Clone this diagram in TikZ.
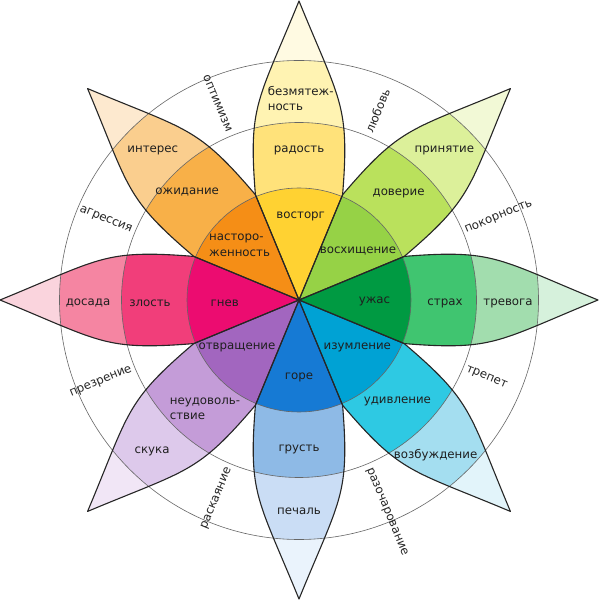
\documentclass[tikz,border=0pt]{standalone}
\usepackage{fontspec}
\setmainfont{DejaVu Sans}
% joy (top)
\definecolor{ja}{HTML}{FFD232}\definecolor{jb}{HTML}{FFE27A}\definecolor{jc}{HTML}{FFF3B2}\definecolor{jd}{HTML}{FFFAE2}
% trust (top right)
\definecolor{ta}{HTML}{96D246}\definecolor{tb}{HTML}{BAE15C}\definecolor{tc}{HTML}{DCF09A}\definecolor{td}{HTML}{F2F9D6}
% fear (right)
\definecolor{fa}{HTML}{009A42}\definecolor{fb}{HTML}{40C570}\definecolor{fc}{HTML}{A2DDAE}\definecolor{fd}{HTML}{D6F1DC}
% surprise (bottom right)
\definecolor{sa}{HTML}{00A2D4}\definecolor{sb}{HTML}{2EC9E3}\definecolor{sc}{HTML}{A4DEF0}\definecolor{sd}{HTML}{E2F4FA}
% sadness (bottom)
\definecolor{da}{HTML}{167AD4}\definecolor{db}{HTML}{8EBAE6}\definecolor{dc}{HTML}{CADDF5}\definecolor{dd}{HTML}{EAF3FC}
% disgust (bottom left)
\definecolor{ga}{HTML}{A266BF}\definecolor{gb}{HTML}{C49CD8}\definecolor{gc}{HTML}{DDC9EB}\definecolor{gd}{HTML}{F1E6F6}
% anger (left)
\definecolor{aa}{HTML}{EC0C70}\definecolor{ab}{HTML}{F13E7A}\definecolor{ac}{HTML}{F585A2}\definecolor{ad}{HTML}{FAD4DD}
% anticipation (top left)
\definecolor{na}{HTML}{F58E16}\definecolor{nb}{HTML}{F8B048}\definecolor{nc}{HTML}{FACE8E}\definecolor{nd}{HTML}{FDE9CF}
\newcommand\plpetal{(0,0) -- (105.3,43.6) .. controls (195.3,50.8) and (198,41.3) .. (299,0) .. controls (198,-41.3) and (195.3,-50.8) .. (105.3,-43.6) -- cycle}
\newcommand\plfill[5]{%
  \begin{scope}[rotate=#1]
    \clip \plpetal;
    \fill[#5] (0,0) circle (300);
    \fill[#4] (0,0) circle (239.5);
    \fill[#3] (0,0) circle (177.5);
    \fill[#2] (0,0) circle (112);
  \end{scope}}
\newcommand\plline[1]{\draw[petalline, rotate=#1] \plpetal;}
\begin{document}
\begin{tikzpicture}[x=1pt,y=1pt,
  emo/.style={font=\fontsize{11.8}{15.5}\selectfont, text=black!88, inner sep=0pt, align=left},
  dyad/.style={font=\fontsize{11.8}{14}\selectfont, text=black!85, inner sep=0pt},
  ring/.style={draw=black!60, line width=0.6pt},
  petalline/.style={draw=black!85, line width=1.1pt, line join=round}]
\useasboundingbox (-299,-304) rectangle (299,300);
\fill[white] (-299,-304) rectangle (299,300);
% petal fills
\plfill{90}{ja}{jb}{jc}{jd}
\plfill{45}{ta}{tb}{tc}{td}
\plfill{0}{fa}{fb}{fc}{fd}
\plfill{-45}{sa}{sb}{sc}{sd}
\plfill{-90}{da}{db}{dc}{dd}
\plfill{-135}{ga}{gb}{gc}{gd}
\plfill{180}{aa}{ab}{ac}{ad}
\plfill{135}{na}{nb}{nc}{nd}
% rings
\draw[ring] (0,0) circle (112);
\draw[ring] (0,0) circle (177.5);
\draw[ring] (0,0) circle (239.5);
% petal outlines
\plline{90}\plline{45}\plline{0}\plline{-45}\plline{-90}\plline{-135}\plline{180}\plline{135}
% emotion labels
\node[emo] (serenity) at (1.7,201.5) {безмятеж-\\ность};
\node[emo] (joy) at (0,150) {радость};
\node[emo] (ecstasy) at (1.7,84) {восторг};
\node[emo] (acceptance) at (145.4,149.8) {принятие};
\node[emo] (trust) at (99.6,107) {доверие};
\node[emo] (admiration) at (59,49) {восхищение};
\node[emo] (apprehension) at (209,-3) {тревога};
\node[emo] (fear) at (146,-3) {страх};
\node[emo] (terror) at (75.5,-1) {ужас};
\node[emo] (distraction) at (136.6,-154.7) {возбуждение};
\node[emo] (surprise) at (98.4,-101.2) {удивление};
\node[emo] (amazement) at (58.3,-47.7) {изумление};
\node[emo] (pensiveness) at (0,-211.3) {печаль};
\node[emo] (sadness) at (0,-149) {грусть};
\node[emo] (grief) at (0,-77) {горе};
\node[emo] (boredom) at (-147,-151) {скука};
\node[emo] (disgust) at (-94,-109) {неудоволь-\\ствие};
\node[emo] (loathing) at (-62,-47.7) {отвращение};
\node[emo] (annoyance) at (-211,-3) {досада};
\node[emo] (anger) at (-149,-3) {злость};
\node[emo] (rage) at (-74.3,-3) {гнев};
\node[emo] (interest) at (-146.2,149.8) {интерес};
\node[emo] (anticipation) at (-111.8,107.8) {ожидание};
\node[emo] (vigilance) at (-59.4,54.5) {насторо-\\женность};
% dyads
\node[dyad, anchor=west, rotate=67.5] (love) at (67.5:182) {любовь};
\node[dyad, anchor=west, rotate=22.5] (submission) at (22.5:180) {покорность};
\node[dyad, anchor=west, rotate=-22.5] (awe) at (-22.5:181) {трепет};
\node[dyad, anchor=west, rotate=-67.5] (disapproval) at (-67.5:182) {разочарование};
\node[dyad, anchor=east, rotate=-67.5] (optimism) at (112.5:182) {оптимизм};
\node[dyad, anchor=east, rotate=-22.5] (aggressiveness) at (157.5:181) {агрессия};
\node[dyad, anchor=east, rotate=22.5] (contempt) at (202.5:181) {презрение};
\node[dyad, anchor=east, rotate=67.5] (remorse) at (247.5:182) {раскаяние};
\end{tikzpicture}
\end{document}
